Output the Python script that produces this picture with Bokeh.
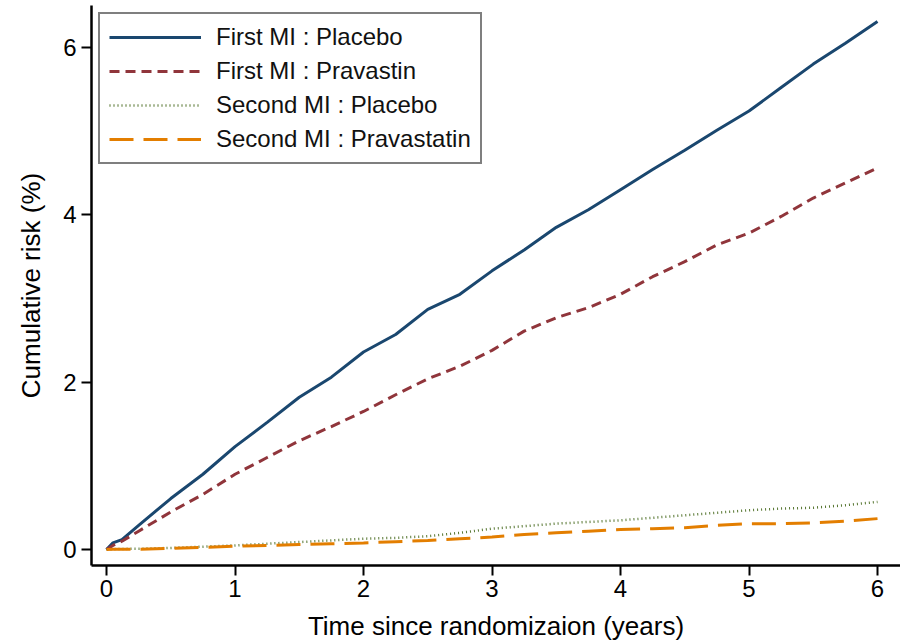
from bokeh.plotting import figure
from bokeh.models import Range1d, FixedTicker
from bokeh.embed import file_html
from bokeh.resources import INLINE

# ---- data ----
years = [0, 0.05, 0.12, 0.25, 0.5, 0.75, 1.0, 1.25, 1.5, 1.75, 2.0, 2.25, 2.5,
         2.75, 3.0, 3.25, 3.5, 3.75, 4.0, 4.25, 4.5, 4.75, 5.0, 5.25, 5.5, 5.75, 6.0]

first_placebo = [0, 0.08, 0.12, 0.29, 0.61, 0.90, 1.23, 1.52, 1.82, 2.06, 2.36, 2.57, 2.87,
                 3.05, 3.33, 3.58, 3.85, 4.06, 4.30, 4.54, 4.77, 5.01, 5.24, 5.52, 5.80, 6.05, 6.31]
first_prava = [0, 0.05, 0.10, 0.22, 0.45, 0.66, 0.90, 1.10, 1.30, 1.47, 1.65, 1.85, 2.04,
               2.19, 2.38, 2.61, 2.77, 2.89, 3.05, 3.26, 3.44, 3.64, 3.78, 3.98, 4.20, 4.38, 4.56]
second_placebo = [0, 0.005, 0.008, 0.01, 0.02, 0.035, 0.05, 0.07, 0.09, 0.11, 0.13, 0.14, 0.16,
                  0.20, 0.25, 0.28, 0.31, 0.33, 0.35, 0.38, 0.41, 0.44, 0.47, 0.49, 0.50, 0.53, 0.57]
second_prava = [0, 0.003, 0.004, 0.005, 0.015, 0.025, 0.04, 0.05, 0.06, 0.07, 0.08, 0.095, 0.11,
                0.13, 0.15, 0.18, 0.20, 0.22, 0.24, 0.25, 0.26, 0.29, 0.31, 0.31, 0.32, 0.34, 0.37]

x_ticks = [0, 1, 2, 3, 4, 5, 6]
y_ticks = [0, 2, 4, 6]

series_labels = ["First MI : Placebo", "First MI : Pravastin",
                 "Second MI : Placebo", "Second MI : Pravastatin"]

FONT = "Liberation Sans"

p = figure(width=900, height=643, output_backend="svg", toolbar_location=None,
           x_range=Range1d(-0.117, 6.179), y_range=Range1d(-0.19, 6.5),
           min_border_left=91, min_border_right=0, min_border_top=5, min_border_bottom=76)

p.outline_line_color = None
p.xgrid.visible = False
p.ygrid.visible = False
p.background_fill_color = "white"
p.border_fill_color = "white"

p.line(years, first_placebo, line_color="#1a476f", line_width=3,
       legend_label=series_labels[0])
p.line(years, first_prava, line_color="#90353b", line_width=3, line_dash="10 6",
       legend_label=series_labels[1])
p.line(years, second_placebo, line_color="#55752f", line_width=2.5, line_dash="1 3",
       legend_label=series_labels[2])
p.line(years, second_prava, line_color="#e37e00", line_width=3, line_dash="24 10",
       legend_label=series_labels[3])

for ax in (p.xaxis[0], p.yaxis[0]):
    ax.axis_line_color = "black"
    ax.axis_line_width = 2.5
    ax.major_tick_line_color = "black"
    ax.major_tick_line_width = 2
    ax.major_tick_out = 10
    ax.major_tick_in = 0
    ax.minor_tick_line_color = None
    ax.major_label_text_font = FONT
    ax.major_label_text_font_size = "24px"
    ax.major_label_text_color = "black"
    ax.axis_label_text_font = FONT
    ax.axis_label_text_font_size = "26px"
    ax.axis_label_text_font_style = "normal"
    ax.axis_label_text_color = "black"

p.xaxis[0].ticker = FixedTicker(ticks=x_ticks)
p.yaxis[0].ticker = FixedTicker(ticks=y_ticks)
p.xaxis[0].axis_label = "Time since randomizaion (years)"
p.yaxis[0].axis_label = "Cumulative risk (%)"
p.xaxis[0].major_label_standoff = 4
p.xaxis[0].axis_label_standoff = 11
p.yaxis[0].major_label_standoff = 5
p.yaxis[0].axis_label_standoff = 14

lg = p.legend[0]
lg.location = "top_left"
lg.margin = 7
lg.padding = 9
lg.spacing = 6
lg.glyph_width = 92
lg.glyph_height = 20
lg.label_standoff = 15
lg.label_text_font = FONT
lg.label_text_font_size = "24px"
lg.label_text_color = "#111111"
lg.border_line_color = "black"
lg.border_line_width = 2
lg.background_fill_alpha = 1.0

open("out.html", "w").write(file_html(p, INLINE))
